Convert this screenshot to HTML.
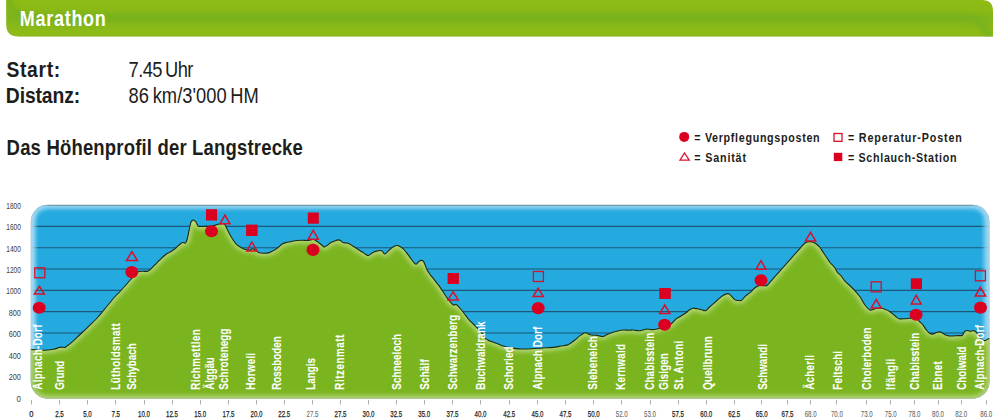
<!DOCTYPE html>
<html><head><meta charset="utf-8"><title>Marathon</title>
<style>
html,body{margin:0;padding:0;background:#fff;width:1000px;height:420px;overflow:hidden}
svg{display:block}
</style></head><body>
<svg width="1000" height="420" viewBox="0 0 1000 420" font-family='"Liberation Sans", sans-serif'>
<defs>
<linearGradient id="hdr" x1="0" y1="0" x2="0" y2="1">
 <stop offset="0" stop-color="#8fbb15"/>
 <stop offset="0.3" stop-color="#8bb916"/>
 <stop offset="0.47" stop-color="#7fb51b"/>
 <stop offset="0.62" stop-color="#84b71a"/>
 <stop offset="0.8" stop-color="#8cba17"/>
 <stop offset="1" stop-color="#8ebb16"/>
</linearGradient>
<clipPath id="hclip"><path d="M6.2,0 L982,0 Q993,0 993,11 L993,36.4 L18.2,36.4 Q6.2,36.4 6.2,24.4 Z"/></clipPath>
<filter id="blurh" x="-5%" y="-50%" width="110%" height="200%"><feGaussianBlur stdDeviation="3"/></filter>
<clipPath id="box"><rect x="30.8" y="204.8" width="958.6" height="193.8" rx="17" ry="17"/></clipPath>
<clipPath id="greenclip"><path d="M25.80,410.00 L25.80,349.30 L30.90,349.30 C31.85,349.42 34.70,349.83 36.60,350.00 C38.50,350.17 40.40,350.30 42.30,350.30 C44.20,350.30 46.10,350.17 48.00,350.00 C49.90,349.83 52.03,349.65 53.70,349.30 C55.37,348.95 56.80,348.27 58.00,347.90 C59.20,347.53 59.83,347.17 60.90,347.10 C61.97,347.03 63.57,347.55 64.40,347.50 C65.23,347.45 64.68,347.67 65.90,346.80 C67.12,345.93 69.35,344.35 71.70,342.30 C74.05,340.25 77.03,337.28 80.00,334.50 C82.97,331.72 86.72,328.27 89.50,325.60 C92.28,322.93 94.32,321.08 96.70,318.50 C99.08,315.92 101.23,313.18 103.80,310.10 C106.37,307.02 109.98,302.52 112.10,300.00 C114.22,297.48 114.95,296.67 116.50,295.00 C118.05,293.33 119.18,292.42 121.40,290.00 C123.62,287.58 127.70,282.92 129.80,280.50 C131.90,278.08 132.62,276.95 134.00,275.50 C135.38,274.05 136.60,272.50 138.10,271.80 C139.60,271.10 141.42,271.40 143.00,271.30 C144.58,271.20 146.23,271.65 147.60,271.20 C148.97,270.75 149.62,270.03 151.20,268.60 C152.78,267.17 155.32,264.38 157.10,262.60 C158.88,260.82 160.30,259.38 161.90,257.90 C163.50,256.42 165.12,254.80 166.70,253.70 C168.28,252.60 169.82,252.30 171.40,251.30 C172.98,250.30 175.00,248.68 176.20,247.70 C177.40,246.72 177.57,246.27 178.60,245.40 C179.63,244.53 181.27,242.88 182.40,242.50 C183.53,242.12 184.62,243.60 185.40,243.10 C186.18,242.60 186.52,241.48 187.10,239.50 C187.68,237.52 188.30,233.97 188.90,231.20 C189.50,228.43 190.10,224.73 190.70,222.90 C191.30,221.07 191.95,220.65 192.50,220.20 C193.05,219.75 193.40,219.85 194.00,220.20 C194.60,220.55 195.45,221.37 196.10,222.30 C196.75,223.23 197.32,225.12 197.90,225.80 C198.48,226.48 198.42,226.30 199.60,226.40 C200.78,226.50 202.93,226.47 205.00,226.40 C207.07,226.33 209.62,226.40 212.00,226.00 C214.38,225.60 217.38,224.37 219.30,224.00 C221.22,223.63 222.52,223.60 223.50,223.80 C224.48,224.00 224.62,224.37 225.20,225.20 C225.78,226.03 226.20,227.20 227.00,228.80 C227.80,230.40 228.90,232.82 230.00,234.80 C231.10,236.78 232.42,239.02 233.60,240.70 C234.78,242.38 235.72,243.70 237.10,244.90 C238.48,246.10 240.30,247.08 241.90,247.90 C243.50,248.72 245.30,249.45 246.70,249.80 C248.10,250.15 249.35,250.18 250.30,250.00 C251.25,249.82 251.68,248.77 252.40,248.70 C253.12,248.63 253.57,248.95 254.60,249.60 C255.63,250.25 257.15,252.00 258.60,252.60 C260.05,253.20 261.52,253.20 263.30,253.20 C265.08,253.20 267.32,253.20 269.30,252.60 C271.28,252.00 273.65,250.53 275.20,249.60 C276.75,248.67 277.45,247.93 278.60,247.00 C279.75,246.07 280.92,244.73 282.10,244.00 C283.28,243.27 284.30,242.98 285.70,242.60 C287.10,242.22 288.72,242.05 290.50,241.70 C292.28,241.35 294.42,240.75 296.40,240.50 C298.38,240.25 300.62,240.20 302.40,240.20 C304.18,240.20 305.72,240.55 307.10,240.50 C308.48,240.45 309.70,240.07 310.70,239.90 C311.70,239.73 312.20,239.37 313.10,239.50 C314.00,239.63 315.12,240.13 316.10,240.70 C317.08,241.27 318.02,242.15 319.00,242.90 C319.98,243.65 321.10,244.52 322.00,245.20 C322.90,245.88 323.50,247.00 324.40,247.00 C325.30,247.00 326.30,245.93 327.40,245.20 C328.50,244.47 329.82,243.28 331.00,242.60 C332.18,241.92 333.32,241.55 334.50,241.10 C335.68,240.65 337.10,240.00 338.10,239.90 C339.10,239.80 339.70,240.05 340.50,240.50 C341.30,240.95 341.92,242.20 342.90,242.60 C343.88,243.00 345.42,242.75 346.40,242.90 C347.38,243.05 347.80,243.02 348.80,243.50 C349.80,243.98 351.02,244.92 352.40,245.80 C353.78,246.68 355.52,247.80 357.10,248.80 C358.68,249.80 360.50,250.90 361.90,251.80 C363.30,252.70 364.40,253.60 365.50,254.20 C366.60,254.80 367.40,255.62 368.50,255.40 C369.60,255.18 370.90,253.57 372.10,252.90 C373.30,252.23 374.30,251.80 375.70,251.40 C377.10,251.00 379.40,250.55 380.50,250.50 C381.60,250.45 381.62,250.52 382.30,251.10 C382.98,251.68 383.72,253.90 384.60,254.00 C385.48,254.10 386.50,252.65 387.60,251.70 C388.70,250.75 390.00,249.25 391.20,248.30 C392.40,247.35 393.82,246.47 394.80,246.00 C395.78,245.53 396.32,245.45 397.10,245.50 C397.88,245.55 398.50,245.77 399.50,246.30 C400.50,246.83 401.90,247.60 403.10,248.70 C404.30,249.80 405.52,251.42 406.70,252.90 C407.88,254.38 409.02,256.02 410.20,257.60 C411.38,259.18 412.80,261.30 413.80,262.40 C414.80,263.50 415.40,264.30 416.20,264.20 C417.00,264.10 417.80,262.43 418.60,261.80 C419.40,261.17 420.22,260.50 421.00,260.40 C421.78,260.30 422.62,260.47 423.30,261.20 C423.98,261.93 424.50,263.42 425.10,264.80 C425.70,266.18 426.10,267.92 426.90,269.50 C427.70,271.08 428.82,272.78 429.90,274.30 C430.98,275.82 432.23,277.13 433.40,278.60 C434.57,280.07 435.72,281.55 436.90,283.10 C438.08,284.65 439.32,286.22 440.50,287.90 C441.68,289.58 442.82,291.42 444.00,293.20 C445.18,294.98 446.50,297.12 447.60,298.60 C448.70,300.08 449.60,301.02 450.60,302.10 C451.60,303.18 452.70,304.70 453.60,305.10 C454.50,305.50 455.22,304.30 456.00,304.50 C456.78,304.70 457.32,305.30 458.30,306.30 C459.28,307.30 460.70,309.02 461.90,310.50 C463.10,311.98 464.40,313.75 465.50,315.20 C466.60,316.65 467.43,317.97 468.50,319.20 C469.57,320.43 470.53,321.23 471.90,322.60 C473.27,323.97 475.12,325.72 476.70,327.40 C478.28,329.08 480.02,330.93 481.40,332.70 C482.78,334.47 483.80,336.70 485.00,338.00 C486.20,339.30 487.42,339.88 488.60,340.50 C489.78,341.12 490.52,341.12 492.10,341.70 C493.68,342.28 496.12,343.25 498.10,344.00 C500.08,344.75 502.02,345.60 504.00,346.20 C505.98,346.80 508.00,347.20 510.00,347.60 C512.00,348.00 514.00,348.37 516.00,348.60 C518.00,348.83 519.43,348.97 522.00,349.00 C524.57,349.03 527.85,348.97 531.40,348.80 C534.95,348.63 539.33,348.28 543.30,348.00 C547.27,347.72 552.25,347.43 555.20,347.10 C558.15,346.77 559.05,346.33 561.00,346.00 C562.95,345.67 565.32,345.55 566.90,345.10 C568.48,344.65 569.12,344.18 570.50,343.30 C571.88,342.42 573.62,341.08 575.20,339.80 C576.78,338.52 578.50,336.75 580.00,335.60 C581.50,334.45 583.12,333.33 584.20,332.90 C585.28,332.47 585.62,332.75 586.50,333.00 C587.38,333.25 588.40,334.03 589.50,334.40 C590.60,334.77 591.90,335.07 593.10,335.20 C594.30,335.33 595.62,335.07 596.70,335.20 C597.78,335.33 598.52,335.80 599.60,336.00 C600.68,336.20 602.10,336.57 603.20,336.40 C604.30,336.23 604.90,335.58 606.20,335.00 C607.50,334.42 609.22,333.53 611.00,332.90 C612.78,332.27 614.92,331.68 616.90,331.20 C618.88,330.72 620.92,330.17 622.90,330.00 C624.88,329.83 627.02,330.20 628.80,330.20 C630.58,330.20 632.02,329.90 633.60,330.00 C635.18,330.10 636.72,330.80 638.30,330.80 C639.88,330.80 641.60,330.30 643.10,330.00 C644.60,329.70 645.92,329.07 647.30,329.00 C648.68,328.93 649.77,329.60 651.40,329.60 C653.03,329.60 654.92,329.43 657.10,329.00 C659.28,328.57 662.12,327.88 664.50,327.00 C666.88,326.12 669.45,325.05 671.40,323.70 C673.35,322.35 674.60,320.18 676.20,318.90 C677.80,317.62 679.42,316.98 681.00,316.00 C682.58,315.02 684.32,314.00 685.70,313.00 C687.08,312.00 688.10,310.80 689.30,310.00 C690.50,309.20 691.52,308.40 692.90,308.20 C694.28,308.00 696.02,308.50 697.60,308.80 C699.18,309.10 701.00,309.70 702.40,310.00 C703.80,310.30 704.82,311.10 706.00,310.60 C707.18,310.10 708.12,308.28 709.50,307.00 C710.88,305.72 712.72,304.28 714.30,302.90 C715.88,301.52 717.62,299.90 719.00,298.70 C720.38,297.50 721.40,296.50 722.60,295.70 C723.80,294.90 725.10,294.20 726.20,293.90 C727.30,293.60 728.22,293.40 729.20,293.90 C730.18,294.40 731.12,295.90 732.10,296.90 C733.08,297.90 734.10,299.30 735.10,299.90 C736.10,300.50 737.00,300.45 738.10,300.50 C739.20,300.55 740.52,300.90 741.70,300.20 C742.88,299.50 743.82,297.55 745.20,296.30 C746.58,295.05 748.37,294.12 750.00,292.70 C751.63,291.28 753.33,289.02 755.00,287.80 C756.67,286.58 758.33,285.73 760.00,285.40 C761.67,285.07 763.75,285.87 765.00,285.80 C766.25,285.73 766.12,286.25 767.50,285.00 C768.88,283.75 771.22,280.67 773.30,278.30 C775.38,275.93 777.77,273.30 780.00,270.80 C782.23,268.30 784.48,265.80 786.70,263.30 C788.92,260.80 791.08,258.30 793.30,255.80 C795.52,253.30 798.05,250.43 800.00,248.30 C801.95,246.17 803.47,244.10 805.00,243.00 C806.53,241.90 807.82,241.83 809.20,241.70 C810.58,241.57 812.05,241.78 813.30,242.20 C814.55,242.62 815.58,243.32 816.70,244.20 C817.82,245.08 818.90,246.12 820.00,247.50 C821.10,248.88 822.18,250.83 823.30,252.50 C824.42,254.17 825.58,255.83 826.70,257.50 C827.82,259.17 829.03,261.25 830.00,262.50 C830.97,263.75 831.67,264.08 832.50,265.00 C833.33,265.92 834.17,266.75 835.00,268.00 C835.83,269.25 836.53,271.25 837.50,272.50 C838.47,273.75 839.55,274.05 840.80,275.50 C842.05,276.95 843.47,279.48 845.00,281.20 C846.53,282.92 848.33,284.20 850.00,285.80 C851.67,287.40 853.33,288.98 855.00,290.80 C856.67,292.62 858.33,294.33 860.00,296.70 C861.67,299.07 863.33,302.78 865.00,305.00 C866.67,307.22 868.33,309.38 870.00,310.00 C871.67,310.62 873.33,309.03 875.00,308.70 C876.67,308.37 878.33,307.92 880.00,308.00 C881.67,308.08 883.33,308.58 885.00,309.20 C886.67,309.82 888.33,310.60 890.00,311.70 C891.67,312.80 893.47,314.63 895.00,315.80 C896.53,316.97 897.53,318.22 899.20,318.70 C900.87,319.18 903.20,318.77 905.00,318.70 C906.80,318.63 908.17,318.33 910.00,318.30 C911.83,318.27 914.33,317.88 916.00,318.50 C917.67,319.12 918.80,320.88 920.00,322.00 C921.20,323.12 922.13,323.87 923.20,325.20 C924.27,326.53 925.33,328.67 926.40,330.00 C927.47,331.33 928.52,332.52 929.60,333.20 C930.68,333.88 931.82,334.18 932.90,334.10 C933.98,334.02 935.03,333.07 936.10,332.70 C937.17,332.33 938.23,331.85 939.30,331.90 C940.37,331.95 941.52,332.52 942.50,333.00 C943.48,333.48 944.13,334.32 945.20,334.80 C946.27,335.28 947.57,335.72 948.90,335.90 C950.23,336.08 951.77,335.95 953.20,335.90 C954.63,335.85 956.37,335.65 957.50,335.60 C958.63,335.55 959.18,335.67 960.00,335.60 C960.82,335.53 961.70,335.77 962.40,335.20 C963.10,334.63 963.60,332.95 964.20,332.20 C964.80,331.45 965.32,330.95 966.00,330.70 C966.68,330.45 967.62,330.60 968.30,330.70 C968.98,330.80 969.40,331.30 970.10,331.30 C970.80,331.30 971.70,330.75 972.50,330.70 C973.30,330.65 974.10,330.50 974.90,331.00 C975.70,331.50 976.52,332.65 977.30,333.70 C978.08,334.75 978.72,336.22 979.60,337.30 C980.48,338.38 981.70,339.67 982.60,340.20 C983.50,340.73 984.20,340.65 985.00,340.50 C985.80,340.35 986.65,339.72 987.40,339.30 C988.15,338.88 989.15,338.22 989.50,338.00 L994.40,338.00 L994.40,410.00 Z"/></clipPath>
<linearGradient id="rglow" x1="0" y1="0" x2="1" y2="0"><stop offset="0" stop-color="#a9dcf4" stop-opacity="0"/><stop offset="1" stop-color="#a9dcf4" stop-opacity="0.55"/></linearGradient>
<linearGradient id="topline" gradientUnits="userSpaceOnUse" x1="42" y1="0" x2="978" y2="0"><stop offset="0" stop-color="#5a7d92" stop-opacity="0"/><stop offset="0.008" stop-color="#5a7d92" stop-opacity="1"/><stop offset="0.992" stop-color="#5a7d92" stop-opacity="1"/><stop offset="1" stop-color="#5a7d92" stop-opacity="0"/></linearGradient>
<linearGradient id="lglow" x1="0" y1="0" x2="1" y2="0"><stop offset="0" stop-color="#b4e0f5" stop-opacity="0.6"/><stop offset="1" stop-color="#b4e0f5" stop-opacity="0"/></linearGradient>
<filter id="blur3" x="-10%" y="-10%" width="120%" height="120%"><feGaussianBlur stdDeviation="2.2"/></filter>
<filter id="blur2" x="-10%" y="-10%" width="120%" height="120%"><feGaussianBlur stdDeviation="2.5"/></filter>
</defs>
<path d="M6.2,0 L982,0 Q993,0 993,11 L993,36.4 L18.2,36.4 Q6.2,36.4 6.2,24.4 Z" fill="url(#hdr)"/>
<g clip-path="url(#hclip)"><path d="M7,-4 Q10,17.5 32,17.5 L962,17.5 Q984,17.5 991,40" fill="none" stroke="#75b11f" stroke-width="6" filter="url(#blurh)"/></g>
<line x1="18" y1="36.7" x2="993" y2="36.7" stroke="#a9ab8a" stroke-width="0.6" opacity="0.6"/>
<text transform="translate(19.80,25.60) scale(0.800,1)" font-size="22.50" font-weight="bold" fill="#fff" textLength="107.50" lengthAdjust="spacing">Marathon</text>
<text transform="translate(6.40,77.30) scale(0.860,1)" font-size="22.50" font-weight="bold" fill="#1d1d1b" textLength="62.56" lengthAdjust="spacing">Start:</text>
<text transform="translate(5.80,103.20) scale(0.860,1)" font-size="22.50" font-weight="bold" fill="#1d1d1b" textLength="86.51" lengthAdjust="spacing">Distanz:</text>
<text transform="translate(128.60,77.20) scale(0.840,1)" font-size="21.80" fill="#1d1d1b" textLength="77.14" lengthAdjust="spacing">7.45 Uhr</text>
<text transform="translate(128.60,103.20) scale(0.840,1)" font-size="21.80" fill="#1d1d1b" textLength="155.00" lengthAdjust="spacing">86 km/3'000 HM</text>
<text transform="translate(6.60,155.20) scale(0.830,1)" font-size="22.30" font-weight="bold" fill="#1d1d1b" textLength="356.99" lengthAdjust="spacing">Das Höhenprofil der Langstrecke</text>
<circle cx="684.2" cy="136.9" r="5" fill="#dc0020"/>
<path d="M684.6,153 L689.2,160.2 L680,160.2 Z" fill="none" stroke="#d8102c" stroke-width="1.3" stroke-linejoin="miter"/>
<rect x="834" y="133.5" width="8" height="7.8" fill="none" stroke="#d8102c" stroke-width="1.3"/>
<rect x="833.8" y="152.8" width="8.5" height="8.3" fill="#dc0020"/>
<text transform="translate(694.30,142.10) scale(0.860,1)" font-size="12.50" font-weight="bold" fill="#1d1d1b" textLength="145.70" lengthAdjust="spacing">= Verpflegungsposten</text>
<text transform="translate(694.30,161.90) scale(0.860,1)" font-size="12.50" font-weight="bold" fill="#1d1d1b" textLength="60.12" lengthAdjust="spacing">= Sanität</text>
<text transform="translate(847.90,142.10) scale(0.860,1)" font-size="12.50" font-weight="bold" fill="#1d1d1b" textLength="132.44" lengthAdjust="spacing">= Reperatur-Posten</text>
<text transform="translate(847.90,161.90) scale(0.860,1)" font-size="12.50" font-weight="bold" fill="#1d1d1b" textLength="126.28" lengthAdjust="spacing">= Schlauch-Station</text>
<text x="6.3" y="209.0" font-size="8.4" fill="#3c3c3b" textLength="14.6" lengthAdjust="spacingAndGlyphs">1800</text>
<text x="6.3" y="230.0" font-size="8.4" fill="#3c3c3b" textLength="14.6" lengthAdjust="spacingAndGlyphs">1600</text>
<text x="6.3" y="251.9" font-size="8.4" fill="#3c3c3b" textLength="14.6" lengthAdjust="spacingAndGlyphs">1400</text>
<text x="6.3" y="273.1" font-size="8.4" fill="#3c3c3b" textLength="14.6" lengthAdjust="spacingAndGlyphs">1200</text>
<text x="6.3" y="294.0" font-size="8.4" fill="#3c3c3b" textLength="14.6" lengthAdjust="spacingAndGlyphs">1000</text>
<text x="8.7" y="315.9" font-size="8.4" fill="#3c3c3b" textLength="12.2" lengthAdjust="spacingAndGlyphs">800</text>
<text x="8.7" y="337.3" font-size="8.4" fill="#3c3c3b" textLength="12.2" lengthAdjust="spacingAndGlyphs">600</text>
<text x="8.7" y="358.7" font-size="8.4" fill="#3c3c3b" textLength="12.2" lengthAdjust="spacingAndGlyphs">400</text>
<text x="8.7" y="380.4" font-size="8.4" fill="#3c3c3b" textLength="12.2" lengthAdjust="spacingAndGlyphs">200</text>
<text x="16.5" y="401.6" font-size="8.4" fill="#3c3c3b" textLength="4.4" lengthAdjust="spacingAndGlyphs">0</text>
<g clip-path="url(#box)">
<rect x="30.8" y="204.8" width="958.6" height="193.8" fill="#24aadf"/>
<line x1="30.8" y1="226.40" x2="989.4" y2="226.40" stroke="#1a5877" stroke-width="1.1"/>
<line x1="30.8" y1="247.70" x2="989.4" y2="247.70" stroke="#1a5877" stroke-width="1.1"/>
<line x1="30.8" y1="269.00" x2="989.4" y2="269.00" stroke="#1a5877" stroke-width="1.1"/>
<line x1="30.8" y1="290.35" x2="989.4" y2="290.35" stroke="#1a5877" stroke-width="1.1"/>
<line x1="30.8" y1="311.65" x2="989.4" y2="311.65" stroke="#1a5877" stroke-width="1.1"/>
<line x1="30.8" y1="332.95" x2="989.4" y2="332.95" stroke="#1a5877" stroke-width="1.1"/>
<line x1="30.8" y1="354.25" x2="989.4" y2="354.25" stroke="#1a5877" stroke-width="1.1"/>
<rect x="30.8" y="204.8" width="958.6" height="193.8" rx="17" fill="none" stroke="#a9dcf4" stroke-width="8" filter="url(#blur3)" opacity="0.9"/>
<rect x="980.4" y="204.8" width="9" height="193.8" fill="url(#rglow)"/>
<rect x="30.8" y="204.8" width="7" height="193.8" fill="url(#lglow)"/>
<line x1="42" y1="205.30" x2="978" y2="205.30" stroke="url(#topline)" stroke-width="1"/>
<path d="M25.80,410.00 L25.80,349.30 L30.90,349.30 C31.85,349.42 34.70,349.83 36.60,350.00 C38.50,350.17 40.40,350.30 42.30,350.30 C44.20,350.30 46.10,350.17 48.00,350.00 C49.90,349.83 52.03,349.65 53.70,349.30 C55.37,348.95 56.80,348.27 58.00,347.90 C59.20,347.53 59.83,347.17 60.90,347.10 C61.97,347.03 63.57,347.55 64.40,347.50 C65.23,347.45 64.68,347.67 65.90,346.80 C67.12,345.93 69.35,344.35 71.70,342.30 C74.05,340.25 77.03,337.28 80.00,334.50 C82.97,331.72 86.72,328.27 89.50,325.60 C92.28,322.93 94.32,321.08 96.70,318.50 C99.08,315.92 101.23,313.18 103.80,310.10 C106.37,307.02 109.98,302.52 112.10,300.00 C114.22,297.48 114.95,296.67 116.50,295.00 C118.05,293.33 119.18,292.42 121.40,290.00 C123.62,287.58 127.70,282.92 129.80,280.50 C131.90,278.08 132.62,276.95 134.00,275.50 C135.38,274.05 136.60,272.50 138.10,271.80 C139.60,271.10 141.42,271.40 143.00,271.30 C144.58,271.20 146.23,271.65 147.60,271.20 C148.97,270.75 149.62,270.03 151.20,268.60 C152.78,267.17 155.32,264.38 157.10,262.60 C158.88,260.82 160.30,259.38 161.90,257.90 C163.50,256.42 165.12,254.80 166.70,253.70 C168.28,252.60 169.82,252.30 171.40,251.30 C172.98,250.30 175.00,248.68 176.20,247.70 C177.40,246.72 177.57,246.27 178.60,245.40 C179.63,244.53 181.27,242.88 182.40,242.50 C183.53,242.12 184.62,243.60 185.40,243.10 C186.18,242.60 186.52,241.48 187.10,239.50 C187.68,237.52 188.30,233.97 188.90,231.20 C189.50,228.43 190.10,224.73 190.70,222.90 C191.30,221.07 191.95,220.65 192.50,220.20 C193.05,219.75 193.40,219.85 194.00,220.20 C194.60,220.55 195.45,221.37 196.10,222.30 C196.75,223.23 197.32,225.12 197.90,225.80 C198.48,226.48 198.42,226.30 199.60,226.40 C200.78,226.50 202.93,226.47 205.00,226.40 C207.07,226.33 209.62,226.40 212.00,226.00 C214.38,225.60 217.38,224.37 219.30,224.00 C221.22,223.63 222.52,223.60 223.50,223.80 C224.48,224.00 224.62,224.37 225.20,225.20 C225.78,226.03 226.20,227.20 227.00,228.80 C227.80,230.40 228.90,232.82 230.00,234.80 C231.10,236.78 232.42,239.02 233.60,240.70 C234.78,242.38 235.72,243.70 237.10,244.90 C238.48,246.10 240.30,247.08 241.90,247.90 C243.50,248.72 245.30,249.45 246.70,249.80 C248.10,250.15 249.35,250.18 250.30,250.00 C251.25,249.82 251.68,248.77 252.40,248.70 C253.12,248.63 253.57,248.95 254.60,249.60 C255.63,250.25 257.15,252.00 258.60,252.60 C260.05,253.20 261.52,253.20 263.30,253.20 C265.08,253.20 267.32,253.20 269.30,252.60 C271.28,252.00 273.65,250.53 275.20,249.60 C276.75,248.67 277.45,247.93 278.60,247.00 C279.75,246.07 280.92,244.73 282.10,244.00 C283.28,243.27 284.30,242.98 285.70,242.60 C287.10,242.22 288.72,242.05 290.50,241.70 C292.28,241.35 294.42,240.75 296.40,240.50 C298.38,240.25 300.62,240.20 302.40,240.20 C304.18,240.20 305.72,240.55 307.10,240.50 C308.48,240.45 309.70,240.07 310.70,239.90 C311.70,239.73 312.20,239.37 313.10,239.50 C314.00,239.63 315.12,240.13 316.10,240.70 C317.08,241.27 318.02,242.15 319.00,242.90 C319.98,243.65 321.10,244.52 322.00,245.20 C322.90,245.88 323.50,247.00 324.40,247.00 C325.30,247.00 326.30,245.93 327.40,245.20 C328.50,244.47 329.82,243.28 331.00,242.60 C332.18,241.92 333.32,241.55 334.50,241.10 C335.68,240.65 337.10,240.00 338.10,239.90 C339.10,239.80 339.70,240.05 340.50,240.50 C341.30,240.95 341.92,242.20 342.90,242.60 C343.88,243.00 345.42,242.75 346.40,242.90 C347.38,243.05 347.80,243.02 348.80,243.50 C349.80,243.98 351.02,244.92 352.40,245.80 C353.78,246.68 355.52,247.80 357.10,248.80 C358.68,249.80 360.50,250.90 361.90,251.80 C363.30,252.70 364.40,253.60 365.50,254.20 C366.60,254.80 367.40,255.62 368.50,255.40 C369.60,255.18 370.90,253.57 372.10,252.90 C373.30,252.23 374.30,251.80 375.70,251.40 C377.10,251.00 379.40,250.55 380.50,250.50 C381.60,250.45 381.62,250.52 382.30,251.10 C382.98,251.68 383.72,253.90 384.60,254.00 C385.48,254.10 386.50,252.65 387.60,251.70 C388.70,250.75 390.00,249.25 391.20,248.30 C392.40,247.35 393.82,246.47 394.80,246.00 C395.78,245.53 396.32,245.45 397.10,245.50 C397.88,245.55 398.50,245.77 399.50,246.30 C400.50,246.83 401.90,247.60 403.10,248.70 C404.30,249.80 405.52,251.42 406.70,252.90 C407.88,254.38 409.02,256.02 410.20,257.60 C411.38,259.18 412.80,261.30 413.80,262.40 C414.80,263.50 415.40,264.30 416.20,264.20 C417.00,264.10 417.80,262.43 418.60,261.80 C419.40,261.17 420.22,260.50 421.00,260.40 C421.78,260.30 422.62,260.47 423.30,261.20 C423.98,261.93 424.50,263.42 425.10,264.80 C425.70,266.18 426.10,267.92 426.90,269.50 C427.70,271.08 428.82,272.78 429.90,274.30 C430.98,275.82 432.23,277.13 433.40,278.60 C434.57,280.07 435.72,281.55 436.90,283.10 C438.08,284.65 439.32,286.22 440.50,287.90 C441.68,289.58 442.82,291.42 444.00,293.20 C445.18,294.98 446.50,297.12 447.60,298.60 C448.70,300.08 449.60,301.02 450.60,302.10 C451.60,303.18 452.70,304.70 453.60,305.10 C454.50,305.50 455.22,304.30 456.00,304.50 C456.78,304.70 457.32,305.30 458.30,306.30 C459.28,307.30 460.70,309.02 461.90,310.50 C463.10,311.98 464.40,313.75 465.50,315.20 C466.60,316.65 467.43,317.97 468.50,319.20 C469.57,320.43 470.53,321.23 471.90,322.60 C473.27,323.97 475.12,325.72 476.70,327.40 C478.28,329.08 480.02,330.93 481.40,332.70 C482.78,334.47 483.80,336.70 485.00,338.00 C486.20,339.30 487.42,339.88 488.60,340.50 C489.78,341.12 490.52,341.12 492.10,341.70 C493.68,342.28 496.12,343.25 498.10,344.00 C500.08,344.75 502.02,345.60 504.00,346.20 C505.98,346.80 508.00,347.20 510.00,347.60 C512.00,348.00 514.00,348.37 516.00,348.60 C518.00,348.83 519.43,348.97 522.00,349.00 C524.57,349.03 527.85,348.97 531.40,348.80 C534.95,348.63 539.33,348.28 543.30,348.00 C547.27,347.72 552.25,347.43 555.20,347.10 C558.15,346.77 559.05,346.33 561.00,346.00 C562.95,345.67 565.32,345.55 566.90,345.10 C568.48,344.65 569.12,344.18 570.50,343.30 C571.88,342.42 573.62,341.08 575.20,339.80 C576.78,338.52 578.50,336.75 580.00,335.60 C581.50,334.45 583.12,333.33 584.20,332.90 C585.28,332.47 585.62,332.75 586.50,333.00 C587.38,333.25 588.40,334.03 589.50,334.40 C590.60,334.77 591.90,335.07 593.10,335.20 C594.30,335.33 595.62,335.07 596.70,335.20 C597.78,335.33 598.52,335.80 599.60,336.00 C600.68,336.20 602.10,336.57 603.20,336.40 C604.30,336.23 604.90,335.58 606.20,335.00 C607.50,334.42 609.22,333.53 611.00,332.90 C612.78,332.27 614.92,331.68 616.90,331.20 C618.88,330.72 620.92,330.17 622.90,330.00 C624.88,329.83 627.02,330.20 628.80,330.20 C630.58,330.20 632.02,329.90 633.60,330.00 C635.18,330.10 636.72,330.80 638.30,330.80 C639.88,330.80 641.60,330.30 643.10,330.00 C644.60,329.70 645.92,329.07 647.30,329.00 C648.68,328.93 649.77,329.60 651.40,329.60 C653.03,329.60 654.92,329.43 657.10,329.00 C659.28,328.57 662.12,327.88 664.50,327.00 C666.88,326.12 669.45,325.05 671.40,323.70 C673.35,322.35 674.60,320.18 676.20,318.90 C677.80,317.62 679.42,316.98 681.00,316.00 C682.58,315.02 684.32,314.00 685.70,313.00 C687.08,312.00 688.10,310.80 689.30,310.00 C690.50,309.20 691.52,308.40 692.90,308.20 C694.28,308.00 696.02,308.50 697.60,308.80 C699.18,309.10 701.00,309.70 702.40,310.00 C703.80,310.30 704.82,311.10 706.00,310.60 C707.18,310.10 708.12,308.28 709.50,307.00 C710.88,305.72 712.72,304.28 714.30,302.90 C715.88,301.52 717.62,299.90 719.00,298.70 C720.38,297.50 721.40,296.50 722.60,295.70 C723.80,294.90 725.10,294.20 726.20,293.90 C727.30,293.60 728.22,293.40 729.20,293.90 C730.18,294.40 731.12,295.90 732.10,296.90 C733.08,297.90 734.10,299.30 735.10,299.90 C736.10,300.50 737.00,300.45 738.10,300.50 C739.20,300.55 740.52,300.90 741.70,300.20 C742.88,299.50 743.82,297.55 745.20,296.30 C746.58,295.05 748.37,294.12 750.00,292.70 C751.63,291.28 753.33,289.02 755.00,287.80 C756.67,286.58 758.33,285.73 760.00,285.40 C761.67,285.07 763.75,285.87 765.00,285.80 C766.25,285.73 766.12,286.25 767.50,285.00 C768.88,283.75 771.22,280.67 773.30,278.30 C775.38,275.93 777.77,273.30 780.00,270.80 C782.23,268.30 784.48,265.80 786.70,263.30 C788.92,260.80 791.08,258.30 793.30,255.80 C795.52,253.30 798.05,250.43 800.00,248.30 C801.95,246.17 803.47,244.10 805.00,243.00 C806.53,241.90 807.82,241.83 809.20,241.70 C810.58,241.57 812.05,241.78 813.30,242.20 C814.55,242.62 815.58,243.32 816.70,244.20 C817.82,245.08 818.90,246.12 820.00,247.50 C821.10,248.88 822.18,250.83 823.30,252.50 C824.42,254.17 825.58,255.83 826.70,257.50 C827.82,259.17 829.03,261.25 830.00,262.50 C830.97,263.75 831.67,264.08 832.50,265.00 C833.33,265.92 834.17,266.75 835.00,268.00 C835.83,269.25 836.53,271.25 837.50,272.50 C838.47,273.75 839.55,274.05 840.80,275.50 C842.05,276.95 843.47,279.48 845.00,281.20 C846.53,282.92 848.33,284.20 850.00,285.80 C851.67,287.40 853.33,288.98 855.00,290.80 C856.67,292.62 858.33,294.33 860.00,296.70 C861.67,299.07 863.33,302.78 865.00,305.00 C866.67,307.22 868.33,309.38 870.00,310.00 C871.67,310.62 873.33,309.03 875.00,308.70 C876.67,308.37 878.33,307.92 880.00,308.00 C881.67,308.08 883.33,308.58 885.00,309.20 C886.67,309.82 888.33,310.60 890.00,311.70 C891.67,312.80 893.47,314.63 895.00,315.80 C896.53,316.97 897.53,318.22 899.20,318.70 C900.87,319.18 903.20,318.77 905.00,318.70 C906.80,318.63 908.17,318.33 910.00,318.30 C911.83,318.27 914.33,317.88 916.00,318.50 C917.67,319.12 918.80,320.88 920.00,322.00 C921.20,323.12 922.13,323.87 923.20,325.20 C924.27,326.53 925.33,328.67 926.40,330.00 C927.47,331.33 928.52,332.52 929.60,333.20 C930.68,333.88 931.82,334.18 932.90,334.10 C933.98,334.02 935.03,333.07 936.10,332.70 C937.17,332.33 938.23,331.85 939.30,331.90 C940.37,331.95 941.52,332.52 942.50,333.00 C943.48,333.48 944.13,334.32 945.20,334.80 C946.27,335.28 947.57,335.72 948.90,335.90 C950.23,336.08 951.77,335.95 953.20,335.90 C954.63,335.85 956.37,335.65 957.50,335.60 C958.63,335.55 959.18,335.67 960.00,335.60 C960.82,335.53 961.70,335.77 962.40,335.20 C963.10,334.63 963.60,332.95 964.20,332.20 C964.80,331.45 965.32,330.95 966.00,330.70 C966.68,330.45 967.62,330.60 968.30,330.70 C968.98,330.80 969.40,331.30 970.10,331.30 C970.80,331.30 971.70,330.75 972.50,330.70 C973.30,330.65 974.10,330.50 974.90,331.00 C975.70,331.50 976.52,332.65 977.30,333.70 C978.08,334.75 978.72,336.22 979.60,337.30 C980.48,338.38 981.70,339.67 982.60,340.20 C983.50,340.73 984.20,340.65 985.00,340.50 C985.80,340.35 986.65,339.72 987.40,339.30 C988.15,338.88 989.15,338.22 989.50,338.00 L994.40,338.00 L994.40,410.00 Z" fill="#7ab520"/>
<g clip-path="url(#greenclip)">
<path d="M30.90,349.30 C31.85,349.42 34.70,349.83 36.60,350.00 C38.50,350.17 40.40,350.30 42.30,350.30 C44.20,350.30 46.10,350.17 48.00,350.00 C49.90,349.83 52.03,349.65 53.70,349.30 C55.37,348.95 56.80,348.27 58.00,347.90 C59.20,347.53 59.83,347.17 60.90,347.10 C61.97,347.03 63.57,347.55 64.40,347.50 C65.23,347.45 64.68,347.67 65.90,346.80 C67.12,345.93 69.35,344.35 71.70,342.30 C74.05,340.25 77.03,337.28 80.00,334.50 C82.97,331.72 86.72,328.27 89.50,325.60 C92.28,322.93 94.32,321.08 96.70,318.50 C99.08,315.92 101.23,313.18 103.80,310.10 C106.37,307.02 109.98,302.52 112.10,300.00 C114.22,297.48 114.95,296.67 116.50,295.00 C118.05,293.33 119.18,292.42 121.40,290.00 C123.62,287.58 127.70,282.92 129.80,280.50 C131.90,278.08 132.62,276.95 134.00,275.50 C135.38,274.05 136.60,272.50 138.10,271.80 C139.60,271.10 141.42,271.40 143.00,271.30 C144.58,271.20 146.23,271.65 147.60,271.20 C148.97,270.75 149.62,270.03 151.20,268.60 C152.78,267.17 155.32,264.38 157.10,262.60 C158.88,260.82 160.30,259.38 161.90,257.90 C163.50,256.42 165.12,254.80 166.70,253.70 C168.28,252.60 169.82,252.30 171.40,251.30 C172.98,250.30 175.00,248.68 176.20,247.70 C177.40,246.72 177.57,246.27 178.60,245.40 C179.63,244.53 181.27,242.88 182.40,242.50 C183.53,242.12 184.62,243.60 185.40,243.10 C186.18,242.60 186.52,241.48 187.10,239.50 C187.68,237.52 188.30,233.97 188.90,231.20 C189.50,228.43 190.10,224.73 190.70,222.90 C191.30,221.07 191.95,220.65 192.50,220.20 C193.05,219.75 193.40,219.85 194.00,220.20 C194.60,220.55 195.45,221.37 196.10,222.30 C196.75,223.23 197.32,225.12 197.90,225.80 C198.48,226.48 198.42,226.30 199.60,226.40 C200.78,226.50 202.93,226.47 205.00,226.40 C207.07,226.33 209.62,226.40 212.00,226.00 C214.38,225.60 217.38,224.37 219.30,224.00 C221.22,223.63 222.52,223.60 223.50,223.80 C224.48,224.00 224.62,224.37 225.20,225.20 C225.78,226.03 226.20,227.20 227.00,228.80 C227.80,230.40 228.90,232.82 230.00,234.80 C231.10,236.78 232.42,239.02 233.60,240.70 C234.78,242.38 235.72,243.70 237.10,244.90 C238.48,246.10 240.30,247.08 241.90,247.90 C243.50,248.72 245.30,249.45 246.70,249.80 C248.10,250.15 249.35,250.18 250.30,250.00 C251.25,249.82 251.68,248.77 252.40,248.70 C253.12,248.63 253.57,248.95 254.60,249.60 C255.63,250.25 257.15,252.00 258.60,252.60 C260.05,253.20 261.52,253.20 263.30,253.20 C265.08,253.20 267.32,253.20 269.30,252.60 C271.28,252.00 273.65,250.53 275.20,249.60 C276.75,248.67 277.45,247.93 278.60,247.00 C279.75,246.07 280.92,244.73 282.10,244.00 C283.28,243.27 284.30,242.98 285.70,242.60 C287.10,242.22 288.72,242.05 290.50,241.70 C292.28,241.35 294.42,240.75 296.40,240.50 C298.38,240.25 300.62,240.20 302.40,240.20 C304.18,240.20 305.72,240.55 307.10,240.50 C308.48,240.45 309.70,240.07 310.70,239.90 C311.70,239.73 312.20,239.37 313.10,239.50 C314.00,239.63 315.12,240.13 316.10,240.70 C317.08,241.27 318.02,242.15 319.00,242.90 C319.98,243.65 321.10,244.52 322.00,245.20 C322.90,245.88 323.50,247.00 324.40,247.00 C325.30,247.00 326.30,245.93 327.40,245.20 C328.50,244.47 329.82,243.28 331.00,242.60 C332.18,241.92 333.32,241.55 334.50,241.10 C335.68,240.65 337.10,240.00 338.10,239.90 C339.10,239.80 339.70,240.05 340.50,240.50 C341.30,240.95 341.92,242.20 342.90,242.60 C343.88,243.00 345.42,242.75 346.40,242.90 C347.38,243.05 347.80,243.02 348.80,243.50 C349.80,243.98 351.02,244.92 352.40,245.80 C353.78,246.68 355.52,247.80 357.10,248.80 C358.68,249.80 360.50,250.90 361.90,251.80 C363.30,252.70 364.40,253.60 365.50,254.20 C366.60,254.80 367.40,255.62 368.50,255.40 C369.60,255.18 370.90,253.57 372.10,252.90 C373.30,252.23 374.30,251.80 375.70,251.40 C377.10,251.00 379.40,250.55 380.50,250.50 C381.60,250.45 381.62,250.52 382.30,251.10 C382.98,251.68 383.72,253.90 384.60,254.00 C385.48,254.10 386.50,252.65 387.60,251.70 C388.70,250.75 390.00,249.25 391.20,248.30 C392.40,247.35 393.82,246.47 394.80,246.00 C395.78,245.53 396.32,245.45 397.10,245.50 C397.88,245.55 398.50,245.77 399.50,246.30 C400.50,246.83 401.90,247.60 403.10,248.70 C404.30,249.80 405.52,251.42 406.70,252.90 C407.88,254.38 409.02,256.02 410.20,257.60 C411.38,259.18 412.80,261.30 413.80,262.40 C414.80,263.50 415.40,264.30 416.20,264.20 C417.00,264.10 417.80,262.43 418.60,261.80 C419.40,261.17 420.22,260.50 421.00,260.40 C421.78,260.30 422.62,260.47 423.30,261.20 C423.98,261.93 424.50,263.42 425.10,264.80 C425.70,266.18 426.10,267.92 426.90,269.50 C427.70,271.08 428.82,272.78 429.90,274.30 C430.98,275.82 432.23,277.13 433.40,278.60 C434.57,280.07 435.72,281.55 436.90,283.10 C438.08,284.65 439.32,286.22 440.50,287.90 C441.68,289.58 442.82,291.42 444.00,293.20 C445.18,294.98 446.50,297.12 447.60,298.60 C448.70,300.08 449.60,301.02 450.60,302.10 C451.60,303.18 452.70,304.70 453.60,305.10 C454.50,305.50 455.22,304.30 456.00,304.50 C456.78,304.70 457.32,305.30 458.30,306.30 C459.28,307.30 460.70,309.02 461.90,310.50 C463.10,311.98 464.40,313.75 465.50,315.20 C466.60,316.65 467.43,317.97 468.50,319.20 C469.57,320.43 470.53,321.23 471.90,322.60 C473.27,323.97 475.12,325.72 476.70,327.40 C478.28,329.08 480.02,330.93 481.40,332.70 C482.78,334.47 483.80,336.70 485.00,338.00 C486.20,339.30 487.42,339.88 488.60,340.50 C489.78,341.12 490.52,341.12 492.10,341.70 C493.68,342.28 496.12,343.25 498.10,344.00 C500.08,344.75 502.02,345.60 504.00,346.20 C505.98,346.80 508.00,347.20 510.00,347.60 C512.00,348.00 514.00,348.37 516.00,348.60 C518.00,348.83 519.43,348.97 522.00,349.00 C524.57,349.03 527.85,348.97 531.40,348.80 C534.95,348.63 539.33,348.28 543.30,348.00 C547.27,347.72 552.25,347.43 555.20,347.10 C558.15,346.77 559.05,346.33 561.00,346.00 C562.95,345.67 565.32,345.55 566.90,345.10 C568.48,344.65 569.12,344.18 570.50,343.30 C571.88,342.42 573.62,341.08 575.20,339.80 C576.78,338.52 578.50,336.75 580.00,335.60 C581.50,334.45 583.12,333.33 584.20,332.90 C585.28,332.47 585.62,332.75 586.50,333.00 C587.38,333.25 588.40,334.03 589.50,334.40 C590.60,334.77 591.90,335.07 593.10,335.20 C594.30,335.33 595.62,335.07 596.70,335.20 C597.78,335.33 598.52,335.80 599.60,336.00 C600.68,336.20 602.10,336.57 603.20,336.40 C604.30,336.23 604.90,335.58 606.20,335.00 C607.50,334.42 609.22,333.53 611.00,332.90 C612.78,332.27 614.92,331.68 616.90,331.20 C618.88,330.72 620.92,330.17 622.90,330.00 C624.88,329.83 627.02,330.20 628.80,330.20 C630.58,330.20 632.02,329.90 633.60,330.00 C635.18,330.10 636.72,330.80 638.30,330.80 C639.88,330.80 641.60,330.30 643.10,330.00 C644.60,329.70 645.92,329.07 647.30,329.00 C648.68,328.93 649.77,329.60 651.40,329.60 C653.03,329.60 654.92,329.43 657.10,329.00 C659.28,328.57 662.12,327.88 664.50,327.00 C666.88,326.12 669.45,325.05 671.40,323.70 C673.35,322.35 674.60,320.18 676.20,318.90 C677.80,317.62 679.42,316.98 681.00,316.00 C682.58,315.02 684.32,314.00 685.70,313.00 C687.08,312.00 688.10,310.80 689.30,310.00 C690.50,309.20 691.52,308.40 692.90,308.20 C694.28,308.00 696.02,308.50 697.60,308.80 C699.18,309.10 701.00,309.70 702.40,310.00 C703.80,310.30 704.82,311.10 706.00,310.60 C707.18,310.10 708.12,308.28 709.50,307.00 C710.88,305.72 712.72,304.28 714.30,302.90 C715.88,301.52 717.62,299.90 719.00,298.70 C720.38,297.50 721.40,296.50 722.60,295.70 C723.80,294.90 725.10,294.20 726.20,293.90 C727.30,293.60 728.22,293.40 729.20,293.90 C730.18,294.40 731.12,295.90 732.10,296.90 C733.08,297.90 734.10,299.30 735.10,299.90 C736.10,300.50 737.00,300.45 738.10,300.50 C739.20,300.55 740.52,300.90 741.70,300.20 C742.88,299.50 743.82,297.55 745.20,296.30 C746.58,295.05 748.37,294.12 750.00,292.70 C751.63,291.28 753.33,289.02 755.00,287.80 C756.67,286.58 758.33,285.73 760.00,285.40 C761.67,285.07 763.75,285.87 765.00,285.80 C766.25,285.73 766.12,286.25 767.50,285.00 C768.88,283.75 771.22,280.67 773.30,278.30 C775.38,275.93 777.77,273.30 780.00,270.80 C782.23,268.30 784.48,265.80 786.70,263.30 C788.92,260.80 791.08,258.30 793.30,255.80 C795.52,253.30 798.05,250.43 800.00,248.30 C801.95,246.17 803.47,244.10 805.00,243.00 C806.53,241.90 807.82,241.83 809.20,241.70 C810.58,241.57 812.05,241.78 813.30,242.20 C814.55,242.62 815.58,243.32 816.70,244.20 C817.82,245.08 818.90,246.12 820.00,247.50 C821.10,248.88 822.18,250.83 823.30,252.50 C824.42,254.17 825.58,255.83 826.70,257.50 C827.82,259.17 829.03,261.25 830.00,262.50 C830.97,263.75 831.67,264.08 832.50,265.00 C833.33,265.92 834.17,266.75 835.00,268.00 C835.83,269.25 836.53,271.25 837.50,272.50 C838.47,273.75 839.55,274.05 840.80,275.50 C842.05,276.95 843.47,279.48 845.00,281.20 C846.53,282.92 848.33,284.20 850.00,285.80 C851.67,287.40 853.33,288.98 855.00,290.80 C856.67,292.62 858.33,294.33 860.00,296.70 C861.67,299.07 863.33,302.78 865.00,305.00 C866.67,307.22 868.33,309.38 870.00,310.00 C871.67,310.62 873.33,309.03 875.00,308.70 C876.67,308.37 878.33,307.92 880.00,308.00 C881.67,308.08 883.33,308.58 885.00,309.20 C886.67,309.82 888.33,310.60 890.00,311.70 C891.67,312.80 893.47,314.63 895.00,315.80 C896.53,316.97 897.53,318.22 899.20,318.70 C900.87,319.18 903.20,318.77 905.00,318.70 C906.80,318.63 908.17,318.33 910.00,318.30 C911.83,318.27 914.33,317.88 916.00,318.50 C917.67,319.12 918.80,320.88 920.00,322.00 C921.20,323.12 922.13,323.87 923.20,325.20 C924.27,326.53 925.33,328.67 926.40,330.00 C927.47,331.33 928.52,332.52 929.60,333.20 C930.68,333.88 931.82,334.18 932.90,334.10 C933.98,334.02 935.03,333.07 936.10,332.70 C937.17,332.33 938.23,331.85 939.30,331.90 C940.37,331.95 941.52,332.52 942.50,333.00 C943.48,333.48 944.13,334.32 945.20,334.80 C946.27,335.28 947.57,335.72 948.90,335.90 C950.23,336.08 951.77,335.95 953.20,335.90 C954.63,335.85 956.37,335.65 957.50,335.60 C958.63,335.55 959.18,335.67 960.00,335.60 C960.82,335.53 961.70,335.77 962.40,335.20 C963.10,334.63 963.60,332.95 964.20,332.20 C964.80,331.45 965.32,330.95 966.00,330.70 C966.68,330.45 967.62,330.60 968.30,330.70 C968.98,330.80 969.40,331.30 970.10,331.30 C970.80,331.30 971.70,330.75 972.50,330.70 C973.30,330.65 974.10,330.50 974.90,331.00 C975.70,331.50 976.52,332.65 977.30,333.70 C978.08,334.75 978.72,336.22 979.60,337.30 C980.48,338.38 981.70,339.67 982.60,340.20 C983.50,340.73 984.20,340.65 985.00,340.50 C985.80,340.35 986.65,339.72 987.40,339.30 C988.15,338.88 989.15,338.22 989.50,338.00" fill="none" stroke="#c6df8c" stroke-width="5" filter="url(#blur2)"/>
<rect x="30.8" y="204.8" width="958.6" height="193.8" rx="17" fill="none" stroke="#b4d47a" stroke-width="6" filter="url(#blur3)"/>
</g>
<path d="M30.90,349.30 C31.85,349.42 34.70,349.83 36.60,350.00 C38.50,350.17 40.40,350.30 42.30,350.30 C44.20,350.30 46.10,350.17 48.00,350.00 C49.90,349.83 52.03,349.65 53.70,349.30 C55.37,348.95 56.80,348.27 58.00,347.90 C59.20,347.53 59.83,347.17 60.90,347.10 C61.97,347.03 63.57,347.55 64.40,347.50 C65.23,347.45 64.68,347.67 65.90,346.80 C67.12,345.93 69.35,344.35 71.70,342.30 C74.05,340.25 77.03,337.28 80.00,334.50 C82.97,331.72 86.72,328.27 89.50,325.60 C92.28,322.93 94.32,321.08 96.70,318.50 C99.08,315.92 101.23,313.18 103.80,310.10 C106.37,307.02 109.98,302.52 112.10,300.00 C114.22,297.48 114.95,296.67 116.50,295.00 C118.05,293.33 119.18,292.42 121.40,290.00 C123.62,287.58 127.70,282.92 129.80,280.50 C131.90,278.08 132.62,276.95 134.00,275.50 C135.38,274.05 136.60,272.50 138.10,271.80 C139.60,271.10 141.42,271.40 143.00,271.30 C144.58,271.20 146.23,271.65 147.60,271.20 C148.97,270.75 149.62,270.03 151.20,268.60 C152.78,267.17 155.32,264.38 157.10,262.60 C158.88,260.82 160.30,259.38 161.90,257.90 C163.50,256.42 165.12,254.80 166.70,253.70 C168.28,252.60 169.82,252.30 171.40,251.30 C172.98,250.30 175.00,248.68 176.20,247.70 C177.40,246.72 177.57,246.27 178.60,245.40 C179.63,244.53 181.27,242.88 182.40,242.50 C183.53,242.12 184.62,243.60 185.40,243.10 C186.18,242.60 186.52,241.48 187.10,239.50 C187.68,237.52 188.30,233.97 188.90,231.20 C189.50,228.43 190.10,224.73 190.70,222.90 C191.30,221.07 191.95,220.65 192.50,220.20 C193.05,219.75 193.40,219.85 194.00,220.20 C194.60,220.55 195.45,221.37 196.10,222.30 C196.75,223.23 197.32,225.12 197.90,225.80 C198.48,226.48 198.42,226.30 199.60,226.40 C200.78,226.50 202.93,226.47 205.00,226.40 C207.07,226.33 209.62,226.40 212.00,226.00 C214.38,225.60 217.38,224.37 219.30,224.00 C221.22,223.63 222.52,223.60 223.50,223.80 C224.48,224.00 224.62,224.37 225.20,225.20 C225.78,226.03 226.20,227.20 227.00,228.80 C227.80,230.40 228.90,232.82 230.00,234.80 C231.10,236.78 232.42,239.02 233.60,240.70 C234.78,242.38 235.72,243.70 237.10,244.90 C238.48,246.10 240.30,247.08 241.90,247.90 C243.50,248.72 245.30,249.45 246.70,249.80 C248.10,250.15 249.35,250.18 250.30,250.00 C251.25,249.82 251.68,248.77 252.40,248.70 C253.12,248.63 253.57,248.95 254.60,249.60 C255.63,250.25 257.15,252.00 258.60,252.60 C260.05,253.20 261.52,253.20 263.30,253.20 C265.08,253.20 267.32,253.20 269.30,252.60 C271.28,252.00 273.65,250.53 275.20,249.60 C276.75,248.67 277.45,247.93 278.60,247.00 C279.75,246.07 280.92,244.73 282.10,244.00 C283.28,243.27 284.30,242.98 285.70,242.60 C287.10,242.22 288.72,242.05 290.50,241.70 C292.28,241.35 294.42,240.75 296.40,240.50 C298.38,240.25 300.62,240.20 302.40,240.20 C304.18,240.20 305.72,240.55 307.10,240.50 C308.48,240.45 309.70,240.07 310.70,239.90 C311.70,239.73 312.20,239.37 313.10,239.50 C314.00,239.63 315.12,240.13 316.10,240.70 C317.08,241.27 318.02,242.15 319.00,242.90 C319.98,243.65 321.10,244.52 322.00,245.20 C322.90,245.88 323.50,247.00 324.40,247.00 C325.30,247.00 326.30,245.93 327.40,245.20 C328.50,244.47 329.82,243.28 331.00,242.60 C332.18,241.92 333.32,241.55 334.50,241.10 C335.68,240.65 337.10,240.00 338.10,239.90 C339.10,239.80 339.70,240.05 340.50,240.50 C341.30,240.95 341.92,242.20 342.90,242.60 C343.88,243.00 345.42,242.75 346.40,242.90 C347.38,243.05 347.80,243.02 348.80,243.50 C349.80,243.98 351.02,244.92 352.40,245.80 C353.78,246.68 355.52,247.80 357.10,248.80 C358.68,249.80 360.50,250.90 361.90,251.80 C363.30,252.70 364.40,253.60 365.50,254.20 C366.60,254.80 367.40,255.62 368.50,255.40 C369.60,255.18 370.90,253.57 372.10,252.90 C373.30,252.23 374.30,251.80 375.70,251.40 C377.10,251.00 379.40,250.55 380.50,250.50 C381.60,250.45 381.62,250.52 382.30,251.10 C382.98,251.68 383.72,253.90 384.60,254.00 C385.48,254.10 386.50,252.65 387.60,251.70 C388.70,250.75 390.00,249.25 391.20,248.30 C392.40,247.35 393.82,246.47 394.80,246.00 C395.78,245.53 396.32,245.45 397.10,245.50 C397.88,245.55 398.50,245.77 399.50,246.30 C400.50,246.83 401.90,247.60 403.10,248.70 C404.30,249.80 405.52,251.42 406.70,252.90 C407.88,254.38 409.02,256.02 410.20,257.60 C411.38,259.18 412.80,261.30 413.80,262.40 C414.80,263.50 415.40,264.30 416.20,264.20 C417.00,264.10 417.80,262.43 418.60,261.80 C419.40,261.17 420.22,260.50 421.00,260.40 C421.78,260.30 422.62,260.47 423.30,261.20 C423.98,261.93 424.50,263.42 425.10,264.80 C425.70,266.18 426.10,267.92 426.90,269.50 C427.70,271.08 428.82,272.78 429.90,274.30 C430.98,275.82 432.23,277.13 433.40,278.60 C434.57,280.07 435.72,281.55 436.90,283.10 C438.08,284.65 439.32,286.22 440.50,287.90 C441.68,289.58 442.82,291.42 444.00,293.20 C445.18,294.98 446.50,297.12 447.60,298.60 C448.70,300.08 449.60,301.02 450.60,302.10 C451.60,303.18 452.70,304.70 453.60,305.10 C454.50,305.50 455.22,304.30 456.00,304.50 C456.78,304.70 457.32,305.30 458.30,306.30 C459.28,307.30 460.70,309.02 461.90,310.50 C463.10,311.98 464.40,313.75 465.50,315.20 C466.60,316.65 467.43,317.97 468.50,319.20 C469.57,320.43 470.53,321.23 471.90,322.60 C473.27,323.97 475.12,325.72 476.70,327.40 C478.28,329.08 480.02,330.93 481.40,332.70 C482.78,334.47 483.80,336.70 485.00,338.00 C486.20,339.30 487.42,339.88 488.60,340.50 C489.78,341.12 490.52,341.12 492.10,341.70 C493.68,342.28 496.12,343.25 498.10,344.00 C500.08,344.75 502.02,345.60 504.00,346.20 C505.98,346.80 508.00,347.20 510.00,347.60 C512.00,348.00 514.00,348.37 516.00,348.60 C518.00,348.83 519.43,348.97 522.00,349.00 C524.57,349.03 527.85,348.97 531.40,348.80 C534.95,348.63 539.33,348.28 543.30,348.00 C547.27,347.72 552.25,347.43 555.20,347.10 C558.15,346.77 559.05,346.33 561.00,346.00 C562.95,345.67 565.32,345.55 566.90,345.10 C568.48,344.65 569.12,344.18 570.50,343.30 C571.88,342.42 573.62,341.08 575.20,339.80 C576.78,338.52 578.50,336.75 580.00,335.60 C581.50,334.45 583.12,333.33 584.20,332.90 C585.28,332.47 585.62,332.75 586.50,333.00 C587.38,333.25 588.40,334.03 589.50,334.40 C590.60,334.77 591.90,335.07 593.10,335.20 C594.30,335.33 595.62,335.07 596.70,335.20 C597.78,335.33 598.52,335.80 599.60,336.00 C600.68,336.20 602.10,336.57 603.20,336.40 C604.30,336.23 604.90,335.58 606.20,335.00 C607.50,334.42 609.22,333.53 611.00,332.90 C612.78,332.27 614.92,331.68 616.90,331.20 C618.88,330.72 620.92,330.17 622.90,330.00 C624.88,329.83 627.02,330.20 628.80,330.20 C630.58,330.20 632.02,329.90 633.60,330.00 C635.18,330.10 636.72,330.80 638.30,330.80 C639.88,330.80 641.60,330.30 643.10,330.00 C644.60,329.70 645.92,329.07 647.30,329.00 C648.68,328.93 649.77,329.60 651.40,329.60 C653.03,329.60 654.92,329.43 657.10,329.00 C659.28,328.57 662.12,327.88 664.50,327.00 C666.88,326.12 669.45,325.05 671.40,323.70 C673.35,322.35 674.60,320.18 676.20,318.90 C677.80,317.62 679.42,316.98 681.00,316.00 C682.58,315.02 684.32,314.00 685.70,313.00 C687.08,312.00 688.10,310.80 689.30,310.00 C690.50,309.20 691.52,308.40 692.90,308.20 C694.28,308.00 696.02,308.50 697.60,308.80 C699.18,309.10 701.00,309.70 702.40,310.00 C703.80,310.30 704.82,311.10 706.00,310.60 C707.18,310.10 708.12,308.28 709.50,307.00 C710.88,305.72 712.72,304.28 714.30,302.90 C715.88,301.52 717.62,299.90 719.00,298.70 C720.38,297.50 721.40,296.50 722.60,295.70 C723.80,294.90 725.10,294.20 726.20,293.90 C727.30,293.60 728.22,293.40 729.20,293.90 C730.18,294.40 731.12,295.90 732.10,296.90 C733.08,297.90 734.10,299.30 735.10,299.90 C736.10,300.50 737.00,300.45 738.10,300.50 C739.20,300.55 740.52,300.90 741.70,300.20 C742.88,299.50 743.82,297.55 745.20,296.30 C746.58,295.05 748.37,294.12 750.00,292.70 C751.63,291.28 753.33,289.02 755.00,287.80 C756.67,286.58 758.33,285.73 760.00,285.40 C761.67,285.07 763.75,285.87 765.00,285.80 C766.25,285.73 766.12,286.25 767.50,285.00 C768.88,283.75 771.22,280.67 773.30,278.30 C775.38,275.93 777.77,273.30 780.00,270.80 C782.23,268.30 784.48,265.80 786.70,263.30 C788.92,260.80 791.08,258.30 793.30,255.80 C795.52,253.30 798.05,250.43 800.00,248.30 C801.95,246.17 803.47,244.10 805.00,243.00 C806.53,241.90 807.82,241.83 809.20,241.70 C810.58,241.57 812.05,241.78 813.30,242.20 C814.55,242.62 815.58,243.32 816.70,244.20 C817.82,245.08 818.90,246.12 820.00,247.50 C821.10,248.88 822.18,250.83 823.30,252.50 C824.42,254.17 825.58,255.83 826.70,257.50 C827.82,259.17 829.03,261.25 830.00,262.50 C830.97,263.75 831.67,264.08 832.50,265.00 C833.33,265.92 834.17,266.75 835.00,268.00 C835.83,269.25 836.53,271.25 837.50,272.50 C838.47,273.75 839.55,274.05 840.80,275.50 C842.05,276.95 843.47,279.48 845.00,281.20 C846.53,282.92 848.33,284.20 850.00,285.80 C851.67,287.40 853.33,288.98 855.00,290.80 C856.67,292.62 858.33,294.33 860.00,296.70 C861.67,299.07 863.33,302.78 865.00,305.00 C866.67,307.22 868.33,309.38 870.00,310.00 C871.67,310.62 873.33,309.03 875.00,308.70 C876.67,308.37 878.33,307.92 880.00,308.00 C881.67,308.08 883.33,308.58 885.00,309.20 C886.67,309.82 888.33,310.60 890.00,311.70 C891.67,312.80 893.47,314.63 895.00,315.80 C896.53,316.97 897.53,318.22 899.20,318.70 C900.87,319.18 903.20,318.77 905.00,318.70 C906.80,318.63 908.17,318.33 910.00,318.30 C911.83,318.27 914.33,317.88 916.00,318.50 C917.67,319.12 918.80,320.88 920.00,322.00 C921.20,323.12 922.13,323.87 923.20,325.20 C924.27,326.53 925.33,328.67 926.40,330.00 C927.47,331.33 928.52,332.52 929.60,333.20 C930.68,333.88 931.82,334.18 932.90,334.10 C933.98,334.02 935.03,333.07 936.10,332.70 C937.17,332.33 938.23,331.85 939.30,331.90 C940.37,331.95 941.52,332.52 942.50,333.00 C943.48,333.48 944.13,334.32 945.20,334.80 C946.27,335.28 947.57,335.72 948.90,335.90 C950.23,336.08 951.77,335.95 953.20,335.90 C954.63,335.85 956.37,335.65 957.50,335.60 C958.63,335.55 959.18,335.67 960.00,335.60 C960.82,335.53 961.70,335.77 962.40,335.20 C963.10,334.63 963.60,332.95 964.20,332.20 C964.80,331.45 965.32,330.95 966.00,330.70 C966.68,330.45 967.62,330.60 968.30,330.70 C968.98,330.80 969.40,331.30 970.10,331.30 C970.80,331.30 971.70,330.75 972.50,330.70 C973.30,330.65 974.10,330.50 974.90,331.00 C975.70,331.50 976.52,332.65 977.30,333.70 C978.08,334.75 978.72,336.22 979.60,337.30 C980.48,338.38 981.70,339.67 982.60,340.20 C983.50,340.73 984.20,340.65 985.00,340.50 C985.80,340.35 986.65,339.72 987.40,339.30 C988.15,338.88 989.15,338.22 989.50,338.00" fill="none" stroke="#1b2b17" stroke-width="1.1" stroke-linejoin="round"/>
</g>
<rect x="31.1" y="205.1" width="958.0" height="193.2" rx="17" fill="none" stroke="#b8b4bc" stroke-width="0.6" opacity="0.7"/>
<text transform="translate(42.3,389.7) rotate(-90) scale(0.80,1)" font-size="12.2" font-weight="bold" fill="#fff" stroke="#fff" stroke-width="0.1" textLength="81.4" lengthAdjust="spacing">Alpnach-Dorf</text>
<text transform="translate(63.8,389.7) rotate(-90) scale(0.80,1)" font-size="12.2" font-weight="bold" fill="#fff" stroke="#fff" stroke-width="0.1" textLength="36.2" lengthAdjust="spacing">Grund</text>
<text transform="translate(119.9,389.7) rotate(-90) scale(0.80,1)" font-size="12.2" font-weight="bold" fill="#fff" stroke="#fff" stroke-width="0.1" textLength="83.1" lengthAdjust="spacing">Lütholdsmatt</text>
<text transform="translate(136.3,389.7) rotate(-90) scale(0.80,1)" font-size="12.2" font-weight="bold" fill="#fff" stroke="#fff" stroke-width="0.1" textLength="57.9" lengthAdjust="spacing">Schybach</text>
<text transform="translate(199.9,389.7) rotate(-90) scale(0.80,1)" font-size="12.2" font-weight="bold" fill="#fff" stroke="#fff" stroke-width="0.1" textLength="75.6" lengthAdjust="spacing">Richmettlen</text>
<text transform="translate(214.4,389.7) rotate(-90) scale(0.80,1)" font-size="12.2" font-weight="bold" fill="#fff" stroke="#fff" stroke-width="0.1" textLength="40.6" lengthAdjust="spacing">Älggäu</text>
<text transform="translate(228.0,389.7) rotate(-90) scale(0.80,1)" font-size="12.2" font-weight="bold" fill="#fff" stroke="#fff" stroke-width="0.1" textLength="76.4" lengthAdjust="spacing">Schrotenegg</text>
<text transform="translate(254.9,389.7) rotate(-90) scale(0.80,1)" font-size="12.2" font-weight="bold" fill="#fff" stroke="#fff" stroke-width="0.1" textLength="46.0" lengthAdjust="spacing">Horweli</text>
<text transform="translate(281.2,389.7) rotate(-90) scale(0.80,1)" font-size="12.2" font-weight="bold" fill="#fff" stroke="#fff" stroke-width="0.1" textLength="66.7" lengthAdjust="spacing">Rossboden</text>
<text transform="translate(315.0,389.7) rotate(-90) scale(0.80,1)" font-size="12.2" font-weight="bold" fill="#fff" stroke="#fff" stroke-width="0.1" textLength="39.6" lengthAdjust="spacing">Langis</text>
<text transform="translate(344.0,389.7) rotate(-90) scale(0.80,1)" font-size="12.2" font-weight="bold" fill="#fff" stroke="#fff" stroke-width="0.1" textLength="68.8" lengthAdjust="spacing">Ritzenmatt</text>
<text transform="translate(401.2,389.7) rotate(-90) scale(0.80,1)" font-size="12.2" font-weight="bold" fill="#fff" stroke="#fff" stroke-width="0.1" textLength="69.6" lengthAdjust="spacing">Schneeloch</text>
<text transform="translate(429.2,389.7) rotate(-90) scale(0.80,1)" font-size="12.2" font-weight="bold" fill="#fff" stroke="#fff" stroke-width="0.1" textLength="38.0" lengthAdjust="spacing">Schälf</text>
<text transform="translate(457.4,389.7) rotate(-90) scale(0.80,1)" font-size="12.2" font-weight="bold" fill="#fff" stroke="#fff" stroke-width="0.1" textLength="93.8" lengthAdjust="spacing">Schwarzenberg</text>
<text transform="translate(485.2,389.7) rotate(-90) scale(0.80,1)" font-size="12.2" font-weight="bold" fill="#fff" stroke="#fff" stroke-width="0.1" textLength="85.2" lengthAdjust="spacing">Buchwaldrank</text>
<text transform="translate(513.2,389.7) rotate(-90) scale(0.80,1)" font-size="12.2" font-weight="bold" fill="#fff" stroke="#fff" stroke-width="0.1" textLength="54.1" lengthAdjust="spacing">Schoried</text>
<text transform="translate(541.7,389.7) rotate(-90) scale(0.80,1)" font-size="12.2" font-weight="bold" fill="#fff" stroke="#fff" stroke-width="0.1" textLength="78.8" lengthAdjust="spacing">Alpnach Dorf</text>
<text transform="translate(597.4,389.7) rotate(-90) scale(0.80,1)" font-size="12.2" font-weight="bold" fill="#fff" stroke="#fff" stroke-width="0.1" textLength="66.9" lengthAdjust="spacing">Siebeneich</text>
<text transform="translate(625.2,389.7) rotate(-90) scale(0.80,1)" font-size="12.2" font-weight="bold" fill="#fff" stroke="#fff" stroke-width="0.1" textLength="57.0" lengthAdjust="spacing">Kernwald</text>
<text transform="translate(654.4,389.7) rotate(-90) scale(0.80,1)" font-size="12.2" font-weight="bold" fill="#fff" stroke="#fff" stroke-width="0.1" textLength="71.1" lengthAdjust="spacing">Chabisstein</text>
<text transform="translate(668.0,389.7) rotate(-90) scale(0.80,1)" font-size="12.2" font-weight="bold" fill="#fff" stroke="#fff" stroke-width="0.1" textLength="45.6" lengthAdjust="spacing">Gisigen</text>
<text transform="translate(683.0,389.7) rotate(-90) scale(0.80,1)" font-size="12.2" font-weight="bold" fill="#fff" stroke="#fff" stroke-width="0.1" textLength="61.2" lengthAdjust="spacing">St. Antoni</text>
<text transform="translate(711.5,389.7) rotate(-90) scale(0.80,1)" font-size="12.2" font-weight="bold" fill="#fff" stroke="#fff" stroke-width="0.1" textLength="66.9" lengthAdjust="spacing">Quellbrunn</text>
<text transform="translate(766.6,389.7) rotate(-90) scale(0.80,1)" font-size="12.2" font-weight="bold" fill="#fff" stroke="#fff" stroke-width="0.1" textLength="57.0" lengthAdjust="spacing">Schwandi</text>
<text transform="translate(814.0,389.7) rotate(-90) scale(0.80,1)" font-size="12.2" font-weight="bold" fill="#fff" stroke="#fff" stroke-width="0.1" textLength="43.4" lengthAdjust="spacing">Ächerli</text>
<text transform="translate(842.0,389.7) rotate(-90) scale(0.80,1)" font-size="12.2" font-weight="bold" fill="#fff" stroke="#fff" stroke-width="0.1" textLength="48.5" lengthAdjust="spacing">Feltschi</text>
<text transform="translate(871.2,389.7) rotate(-90) scale(0.80,1)" font-size="12.2" font-weight="bold" fill="#fff" stroke="#fff" stroke-width="0.1" textLength="77.6" lengthAdjust="spacing">Cholerboden</text>
<text transform="translate(894.7,389.7) rotate(-90) scale(0.80,1)" font-size="12.2" font-weight="bold" fill="#fff" stroke="#fff" stroke-width="0.1" textLength="38.6" lengthAdjust="spacing">Ifängli</text>
<text transform="translate(918.9,389.7) rotate(-90) scale(0.80,1)" font-size="12.2" font-weight="bold" fill="#fff" stroke="#fff" stroke-width="0.1" textLength="71.1" lengthAdjust="spacing">Chabisstein</text>
<text transform="translate(942.4,389.7) rotate(-90) scale(0.80,1)" font-size="12.2" font-weight="bold" fill="#fff" stroke="#fff" stroke-width="0.1" textLength="35.7" lengthAdjust="spacing">Ebnet</text>
<text transform="translate(966.4,389.7) rotate(-90) scale(0.80,1)" font-size="12.2" font-weight="bold" fill="#fff" stroke="#fff" stroke-width="0.1" textLength="54.1" lengthAdjust="spacing">Cholwald</text>
<text transform="translate(984.4,389.7) rotate(-90) scale(0.80,1)" font-size="12.2" font-weight="bold" fill="#fff" stroke="#fff" stroke-width="0.1" textLength="81.0" lengthAdjust="spacing">Alpnach-Dorf</text>
<ellipse cx="39.2" cy="307.8" rx="6.5" ry="6.05" fill="#dc0020"/>
<ellipse cx="131.8" cy="272.1" rx="6.5" ry="6.05" fill="#dc0020"/>
<ellipse cx="211.5" cy="231.3" rx="6.5" ry="6.05" fill="#dc0020"/>
<ellipse cx="313.0" cy="249.9" rx="6.5" ry="6.05" fill="#dc0020"/>
<ellipse cx="538.2" cy="308.1" rx="6.5" ry="6.05" fill="#dc0020"/>
<ellipse cx="664.6" cy="324.8" rx="6.5" ry="6.05" fill="#dc0020"/>
<ellipse cx="761.0" cy="280.2" rx="6.5" ry="6.05" fill="#dc0020"/>
<ellipse cx="916.1" cy="314.8" rx="6.5" ry="6.05" fill="#dc0020"/>
<ellipse cx="980.5" cy="307.6" rx="6.5" ry="6.05" fill="#dc0020"/>
<path d="M39.4,286.4 L44.4,293.9 L34.4,293.9 Z" fill="none" stroke="#d8102c" stroke-width="1.5" stroke-linejoin="miter"/>
<path d="M131.9,251.6 L137.4,260.6 L126.5,260.6 Z" fill="none" stroke="#d8102c" stroke-width="1.5" stroke-linejoin="miter"/>
<path d="M225.0,215.1 L229.9,223.8 L220.0,223.8 Z" fill="none" stroke="#d8102c" stroke-width="1.5" stroke-linejoin="miter"/>
<path d="M251.9,242.0 L257.0,250.9 L246.8,250.9 Z" fill="none" stroke="#d8102c" stroke-width="1.5" stroke-linejoin="miter"/>
<path d="M313.2,230.3 L318.3,239.2 L308.2,239.2 Z" fill="none" stroke="#d8102c" stroke-width="1.5" stroke-linejoin="miter"/>
<path d="M453.1,291.7 L458.2,299.9 L448.1,299.9 Z" fill="none" stroke="#d8102c" stroke-width="1.5" stroke-linejoin="miter"/>
<path d="M538.2,288.3 L543.3,296.6 L533.1,296.6 Z" fill="none" stroke="#d8102c" stroke-width="1.5" stroke-linejoin="miter"/>
<path d="M664.8,305.0 L669.9,313.6 L659.6,313.6 Z" fill="none" stroke="#d8102c" stroke-width="1.5" stroke-linejoin="miter"/>
<path d="M761.0,260.7 L765.9,269.2 L756.0,269.2 Z" fill="none" stroke="#d8102c" stroke-width="1.5" stroke-linejoin="miter"/>
<path d="M810.6,232.3 L815.7,240.9 L805.5,240.9 Z" fill="none" stroke="#d8102c" stroke-width="1.5" stroke-linejoin="miter"/>
<path d="M876.2,299.5 L881.2,307.9 L871.3,307.9 Z" fill="none" stroke="#d8102c" stroke-width="1.5" stroke-linejoin="miter"/>
<path d="M916.2,295.3 L921.2,303.9 L911.3,303.9 Z" fill="none" stroke="#d8102c" stroke-width="1.5" stroke-linejoin="miter"/>
<path d="M980.4,287.3 L985.6,296.1 L975.3,296.1 Z" fill="none" stroke="#d8102c" stroke-width="1.5" stroke-linejoin="miter"/>
<rect x="34.8" y="267.8" width="10.0" height="10.0" fill="none" stroke="#d8102c" stroke-width="1.3"/>
<rect x="533.4" y="271.5" width="10.0" height="10.0" fill="none" stroke="#d8102c" stroke-width="1.3"/>
<rect x="871.2" y="281.8" width="10.0" height="10.0" fill="none" stroke="#d8102c" stroke-width="1.3"/>
<rect x="975.4" y="270.8" width="10.0" height="10.0" fill="none" stroke="#d8102c" stroke-width="1.3"/>
<rect x="206.0" y="209.2" width="11.1" height="11.3" fill="#dc0020"/>
<rect x="246.1" y="224.6" width="11.5" height="11.4" fill="#dc0020"/>
<rect x="307.8" y="212.5" width="11.0" height="11.2" fill="#dc0020"/>
<rect x="447.6" y="273.0" width="11.3" height="11.0" fill="#dc0020"/>
<rect x="659.3" y="288.0" width="11.5" height="11.0" fill="#dc0020"/>
<rect x="910.8" y="278.3" width="11.2" height="10.9" fill="#dc0020"/>
<line x1="31.50" y1="400" x2="31.50" y2="404.5" stroke="#b0b0b0" stroke-width="1"/>
<text x="29.15" y="417.1" font-size="9" fill="#1e1e1e" stroke="#1e1e1e" stroke-width="0.25" textLength="4.2" lengthAdjust="spacingAndGlyphs">0</text>
<line x1="59.50" y1="400" x2="59.50" y2="404.5" stroke="#b0b0b0" stroke-width="1"/>
<text x="55.20" y="417.1" font-size="9" fill="#1e1e1e" stroke="#1e1e1e" stroke-width="0.25" textLength="8.6" lengthAdjust="spacingAndGlyphs">2.5</text>
<line x1="87.50" y1="400" x2="87.50" y2="404.5" stroke="#b0b0b0" stroke-width="1"/>
<text x="83.20" y="417.1" font-size="9" fill="#1e1e1e" stroke="#1e1e1e" stroke-width="0.25" textLength="8.6" lengthAdjust="spacingAndGlyphs">5.0</text>
<line x1="115.50" y1="400" x2="115.50" y2="404.5" stroke="#b0b0b0" stroke-width="1"/>
<text x="111.45" y="417.1" font-size="9" fill="#1e1e1e" stroke="#1e1e1e" stroke-width="0.25" textLength="8.6" lengthAdjust="spacingAndGlyphs">7.5</text>
<line x1="144.50" y1="400" x2="144.50" y2="404.5" stroke="#b0b0b0" stroke-width="1"/>
<text x="138.05" y="417.1" font-size="9" fill="#1e1e1e" stroke="#1e1e1e" stroke-width="0.25" textLength="11.9" lengthAdjust="spacingAndGlyphs">10.0</text>
<line x1="172.50" y1="400" x2="172.50" y2="404.5" stroke="#b0b0b0" stroke-width="1"/>
<text x="166.05" y="417.1" font-size="9" fill="#1e1e1e" stroke="#1e1e1e" stroke-width="0.25" textLength="11.9" lengthAdjust="spacingAndGlyphs">12.5</text>
<line x1="200.50" y1="400" x2="200.50" y2="404.5" stroke="#b0b0b0" stroke-width="1"/>
<text x="194.30" y="417.1" font-size="9" fill="#1e1e1e" stroke="#1e1e1e" stroke-width="0.25" textLength="11.9" lengthAdjust="spacingAndGlyphs">15.0</text>
<line x1="228.50" y1="400" x2="228.50" y2="404.5" stroke="#b0b0b0" stroke-width="1"/>
<text x="222.55" y="417.1" font-size="9" fill="#1e1e1e" stroke="#1e1e1e" stroke-width="0.25" textLength="11.9" lengthAdjust="spacingAndGlyphs">17.5</text>
<line x1="256.50" y1="400" x2="256.50" y2="404.5" stroke="#b0b0b0" stroke-width="1"/>
<text x="250.55" y="417.1" font-size="9" fill="#1e1e1e" stroke="#1e1e1e" stroke-width="0.25" textLength="11.9" lengthAdjust="spacingAndGlyphs">20.0</text>
<line x1="284.50" y1="400" x2="284.50" y2="404.5" stroke="#b0b0b0" stroke-width="1"/>
<text x="278.25" y="417.1" font-size="9" fill="#1e1e1e" stroke="#1e1e1e" stroke-width="0.25" textLength="11.9" lengthAdjust="spacingAndGlyphs">22.5</text>
<line x1="312.50" y1="400" x2="312.50" y2="404.5" stroke="#b0b0b0" stroke-width="1"/>
<text x="306.55" y="417.1" font-size="9" fill="#6a6a6a" stroke="#6a6a6a" stroke-width="0.10" textLength="11.9" lengthAdjust="spacingAndGlyphs">27.5</text>
<line x1="340.50" y1="400" x2="340.50" y2="404.5" stroke="#b0b0b0" stroke-width="1"/>
<text x="334.55" y="417.1" font-size="9" fill="#1e1e1e" stroke="#1e1e1e" stroke-width="0.25" textLength="11.9" lengthAdjust="spacingAndGlyphs">27.5</text>
<line x1="368.50" y1="400" x2="368.50" y2="404.5" stroke="#b0b0b0" stroke-width="1"/>
<text x="362.55" y="417.1" font-size="9" fill="#1e1e1e" stroke="#1e1e1e" stroke-width="0.25" textLength="11.9" lengthAdjust="spacingAndGlyphs">30.0</text>
<line x1="396.50" y1="400" x2="396.50" y2="404.5" stroke="#b0b0b0" stroke-width="1"/>
<text x="390.30" y="417.1" font-size="9" fill="#1e1e1e" stroke="#1e1e1e" stroke-width="0.25" textLength="11.9" lengthAdjust="spacingAndGlyphs">32.5</text>
<line x1="424.50" y1="400" x2="424.50" y2="404.5" stroke="#b0b0b0" stroke-width="1"/>
<text x="418.30" y="417.1" font-size="9" fill="#1e1e1e" stroke="#1e1e1e" stroke-width="0.25" textLength="11.9" lengthAdjust="spacingAndGlyphs">35.0</text>
<line x1="452.50" y1="400" x2="452.50" y2="404.5" stroke="#b0b0b0" stroke-width="1"/>
<text x="446.55" y="417.1" font-size="9" fill="#1e1e1e" stroke="#1e1e1e" stroke-width="0.25" textLength="11.9" lengthAdjust="spacingAndGlyphs">37.5</text>
<line x1="480.50" y1="400" x2="480.50" y2="404.5" stroke="#b0b0b0" stroke-width="1"/>
<text x="474.55" y="417.1" font-size="9" fill="#1e1e1e" stroke="#1e1e1e" stroke-width="0.25" textLength="11.9" lengthAdjust="spacingAndGlyphs">40.0</text>
<line x1="509.50" y1="400" x2="509.50" y2="404.5" stroke="#b0b0b0" stroke-width="1"/>
<text x="503.30" y="417.1" font-size="9" fill="#1e1e1e" stroke="#1e1e1e" stroke-width="0.25" textLength="11.9" lengthAdjust="spacingAndGlyphs">42.5</text>
<line x1="537.50" y1="400" x2="537.50" y2="404.5" stroke="#b0b0b0" stroke-width="1"/>
<text x="531.55" y="417.1" font-size="9" fill="#1e1e1e" stroke="#1e1e1e" stroke-width="0.25" textLength="11.9" lengthAdjust="spacingAndGlyphs">45.0</text>
<line x1="565.50" y1="400" x2="565.50" y2="404.5" stroke="#b0b0b0" stroke-width="1"/>
<text x="559.55" y="417.1" font-size="9" fill="#1e1e1e" stroke="#1e1e1e" stroke-width="0.25" textLength="11.9" lengthAdjust="spacingAndGlyphs">47.5</text>
<line x1="593.50" y1="400" x2="593.50" y2="404.5" stroke="#b0b0b0" stroke-width="1"/>
<text x="587.80" y="417.1" font-size="9" fill="#1e1e1e" stroke="#1e1e1e" stroke-width="0.25" textLength="11.9" lengthAdjust="spacingAndGlyphs">50.0</text>
<line x1="621.50" y1="400" x2="621.50" y2="404.5" stroke="#b0b0b0" stroke-width="1"/>
<text x="615.80" y="417.1" font-size="9" fill="#6a6a6a" stroke="#6a6a6a" stroke-width="0.10" textLength="11.9" lengthAdjust="spacingAndGlyphs">52.0</text>
<line x1="650.50" y1="400" x2="650.50" y2="404.5" stroke="#b0b0b0" stroke-width="1"/>
<text x="644.05" y="417.1" font-size="9" fill="#6a6a6a" stroke="#6a6a6a" stroke-width="0.10" textLength="11.9" lengthAdjust="spacingAndGlyphs">53.0</text>
<line x1="678.50" y1="400" x2="678.50" y2="404.5" stroke="#b0b0b0" stroke-width="1"/>
<text x="672.05" y="417.1" font-size="9" fill="#1e1e1e" stroke="#1e1e1e" stroke-width="0.25" textLength="11.9" lengthAdjust="spacingAndGlyphs">57.5</text>
<line x1="706.50" y1="400" x2="706.50" y2="404.5" stroke="#b0b0b0" stroke-width="1"/>
<text x="700.30" y="417.1" font-size="9" fill="#1e1e1e" stroke="#1e1e1e" stroke-width="0.25" textLength="11.9" lengthAdjust="spacingAndGlyphs">60.0</text>
<line x1="734.50" y1="400" x2="734.50" y2="404.5" stroke="#b0b0b0" stroke-width="1"/>
<text x="728.30" y="417.1" font-size="9" fill="#1e1e1e" stroke="#1e1e1e" stroke-width="0.25" textLength="11.9" lengthAdjust="spacingAndGlyphs">62.5</text>
<line x1="761.50" y1="400" x2="761.50" y2="404.5" stroke="#b0b0b0" stroke-width="1"/>
<text x="755.75" y="417.1" font-size="9" fill="#1e1e1e" stroke="#1e1e1e" stroke-width="0.25" textLength="11.9" lengthAdjust="spacingAndGlyphs">65.0</text>
<line x1="787.50" y1="400" x2="787.50" y2="404.5" stroke="#b0b0b0" stroke-width="1"/>
<text x="781.55" y="417.1" font-size="9" fill="#1e1e1e" stroke="#1e1e1e" stroke-width="0.25" textLength="11.9" lengthAdjust="spacingAndGlyphs">67.5</text>
<line x1="810.50" y1="400" x2="810.50" y2="404.5" stroke="#b0b0b0" stroke-width="1"/>
<text x="804.65" y="417.1" font-size="9" fill="#6a6a6a" stroke="#6a6a6a" stroke-width="0.10" textLength="11.9" lengthAdjust="spacingAndGlyphs">68.0</text>
<line x1="836.50" y1="400" x2="836.50" y2="404.5" stroke="#b0b0b0" stroke-width="1"/>
<text x="830.95" y="417.1" font-size="9" fill="#6a6a6a" stroke="#6a6a6a" stroke-width="0.10" textLength="11.9" lengthAdjust="spacingAndGlyphs">70.0</text>
<line x1="866.50" y1="400" x2="866.50" y2="404.5" stroke="#b0b0b0" stroke-width="1"/>
<text x="860.85" y="417.1" font-size="9" fill="#6a6a6a" stroke="#6a6a6a" stroke-width="0.10" textLength="11.9" lengthAdjust="spacingAndGlyphs">73.0</text>
<line x1="890.50" y1="400" x2="890.50" y2="404.5" stroke="#b0b0b0" stroke-width="1"/>
<text x="884.80" y="417.1" font-size="9" fill="#6a6a6a" stroke="#6a6a6a" stroke-width="0.10" textLength="11.9" lengthAdjust="spacingAndGlyphs">75.0</text>
<line x1="914.50" y1="400" x2="914.50" y2="404.5" stroke="#b0b0b0" stroke-width="1"/>
<text x="908.55" y="417.1" font-size="9" fill="#6a6a6a" stroke="#6a6a6a" stroke-width="0.10" textLength="11.9" lengthAdjust="spacingAndGlyphs">78.0</text>
<line x1="938.50" y1="400" x2="938.50" y2="404.5" stroke="#b0b0b0" stroke-width="1"/>
<text x="932.05" y="417.1" font-size="9" fill="#6a6a6a" stroke="#6a6a6a" stroke-width="0.10" textLength="11.9" lengthAdjust="spacingAndGlyphs">80.0</text>
<line x1="961.50" y1="400" x2="961.50" y2="404.5" stroke="#b0b0b0" stroke-width="1"/>
<text x="955.30" y="417.1" font-size="9" fill="#6a6a6a" stroke="#6a6a6a" stroke-width="0.10" textLength="11.9" lengthAdjust="spacingAndGlyphs">82.0</text>
<line x1="986.50" y1="400" x2="986.50" y2="404.5" stroke="#b0b0b0" stroke-width="1"/>
<text x="980.30" y="417.1" font-size="9" fill="#6a6a6a" stroke="#6a6a6a" stroke-width="0.10" textLength="11.9" lengthAdjust="spacingAndGlyphs">86.0</text>
</svg>
</body></html>
